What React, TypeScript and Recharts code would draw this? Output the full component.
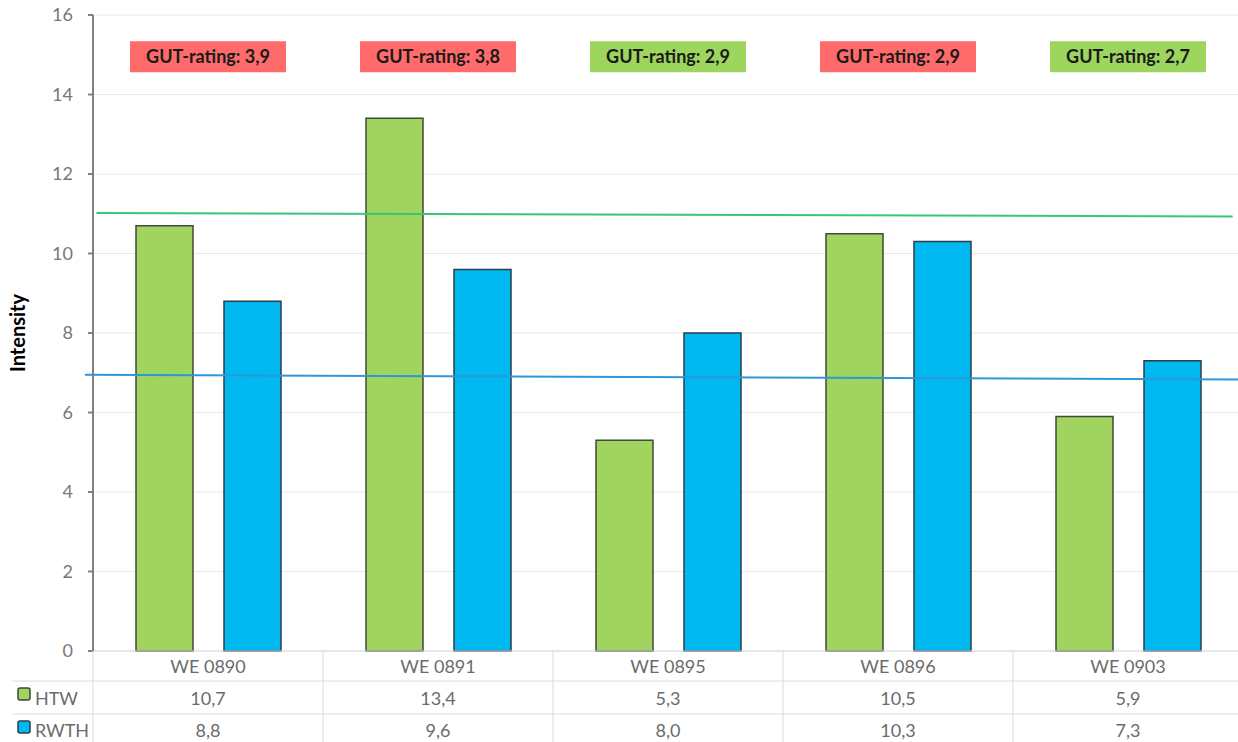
import { BarChart, Bar, XAxis, YAxis, CartesianGrid, ReferenceLine, ReferenceDot } from 'recharts'

const categories = ['WE 0890', 'WE 0891', 'WE 0895', 'WE 0896', 'WE 0903']
const htw = [10.7, 13.4, 5.3, 10.5, 5.9]
const rwth = [8.8, 9.6, 8.0, 10.3, 7.3]
const gutRatings = [3.9, 3.8, 2.9, 2.9, 2.7]
const gutStatus = ['bad', 'bad', 'good', 'bad', 'good']
const yTicks = [0, 2, 4, 6, 8, 10, 12, 14, 16]
// start / end of the two trend lines (Intensity)
const htwTrend = [11.02, 10.93]
const rwthTrend = [6.95, 6.83]

const FONT = 'Lato, "Open Sans", sans-serif'
const GREEN = '#a1d35f'
const BLUE = '#00b9f0'
const BAND = 230
const TABLE_LINE = '#dcdcdc'
const TEXT_GRAY = '#6b6b6b'

const fmt = (v: number) => v.toFixed(1).replace('.', ',')

const data = categories.map((name, i) => ({ name, htw: htw[i], rwth: rwth[i] }))

// x axis tick drawn as a data table column
function TableTick(props: any) {
  const { x, y, payload } = props
  const i = payload.index
  const half = BAND / 2
  return (
    <g fontFamily={FONT} fontSize={18} fill={TEXT_GRAY}>
      <line x1={x + half} y1={y} x2={x + half} y2={y + 91} stroke={TABLE_LINE} />
      <line x1={x - half} y1={y + 30} x2={x + half} y2={y + 30} stroke={TABLE_LINE} />
      <line x1={x - half} y1={y + 63} x2={x + half} y2={y + 63} stroke={TABLE_LINE} />
      <text x={x} y={y + 22} textAnchor="middle">{payload.value}</text>
      <text x={x} y={y + 54} textAnchor="middle">{fmt(htw[i])}</text>
      <text x={x} y={y + 86} textAnchor="middle">{fmt(rwth[i])}</text>
      {i === 0 && (
        <g>
          <line x1={x - half} y1={y} x2={x - half} y2={y + 91} stroke={TABLE_LINE} />
          <line x1={x - half - 81} y1={y + 30} x2={x - half} y2={y + 30} stroke={TABLE_LINE} />
          <line x1={x - half - 81} y1={y + 63} x2={x - half} y2={y + 63} stroke={TABLE_LINE} />
          <rect x={x - half - 75} y={y + 37} width={12} height={12} rx={2} fill={GREEN} stroke="#3f4a38" strokeWidth={1.5} />
          <text x={x - half - 58} y={y + 54}>HTW</text>
          <rect x={x - half - 75} y={y + 70} width={12} height={12} rx={2} fill={BLUE} stroke="#2d3e4a" strokeWidth={1.5} />
          <text x={x - half - 58} y={y + 86}>RWTH</text>
        </g>
      )}
    </g>
  )
}

function GutBox(props: any) {
  const { cx, cy, index } = props
  const good = gutStatus[index] === 'good'
  return (
    <g>
      <rect x={cx - 78} y={cy - 15.5} width={156} height={31} fill={good ? '#9dd55e' : '#ff6b6b'} />
      <text x={cx} y={cy + 6} textAnchor="middle" fontFamily={FONT} fontSize={18} fontWeight={700} fill="#1a1a1a">
        {`GUT-rating: ${fmt(gutRatings[index])}`}
      </text>
    </g>
  )
}

export default function App() {
  return (
    <div style={{ width: 1238, height: 742, overflow: 'hidden', background: '#fff' }}>
      <style>{'body{margin:0}'}</style>
      <BarChart
        width={1243}
        height={742}
        data={data}
        margin={{ top: 15, right: 0, left: 0, bottom: 0 }}
        barSize={57}
        barGap={31}
      >
        <CartesianGrid horizontal vertical={false} stroke="#e8e8e8" />
        <XAxis
          dataKey="name"
          height={91}
          tickLine={false}
          tickSize={0}
          tickMargin={0}
          axisLine={{ stroke: TABLE_LINE }}
          tick={<TableTick />}
          interval={0}
        />
        <XAxis xAxisId="trend" type="number" domain={[0, 4]} allowDataOverflow hide />
        <YAxis
          width={93}
          domain={[0, 16]}
          ticks={yTicks}
          interval={0}
          axisLine={{ stroke: '#808080', strokeWidth: 2 }}
          tickLine={{ stroke: '#808080', strokeWidth: 2 }}
          tickSize={5}
          tickMargin={15}
          tick={{ fill: '#777', fontSize: 18, fontFamily: FONT }}
          label={{
            value: 'Intensity',
            angle: -90,
            position: 'insideLeft',
            offset: 18,
            style: { fontFamily: FONT, fontSize: 20, fontWeight: 700, fill: '#000', textAnchor: 'middle' },
          }}
        />
        <Bar dataKey="htw" name="HTW" fill={GREEN} stroke="#3f4a38" strokeWidth={1.5} isAnimationActive={false} />
        <Bar dataKey="rwth" name="RWTH" fill={BLUE} stroke="#2d3e4a" strokeWidth={1.5} isAnimationActive={false} />
        <ReferenceLine
          xAxisId="trend"
          segment={[{ x: 0.012, y: htwTrend[0] }, { x: 3.964, y: htwTrend[1] }]}
          stroke="#3cc47c"
          strokeWidth={2}
          ifOverflow="visible"
        />
        <ReferenceLine
          xAxisId="trend"
          segment={[{ x: -0.028, y: rwthTrend[0] }, { x: 4, y: rwthTrend[1] }]}
          stroke="#2f96d8"
          strokeWidth={2}
          ifOverflow="visible"
        />
        {categories.map((c, i) => (
          <ReferenceDot
            key={c}
            x={c}
            y={14.95}
            r={0}
            ifOverflow="visible"
            shape={(p: any) => <GutBox {...p} index={i} />}
          />
        ))}
      </BarChart>
    </div>
  )
}
